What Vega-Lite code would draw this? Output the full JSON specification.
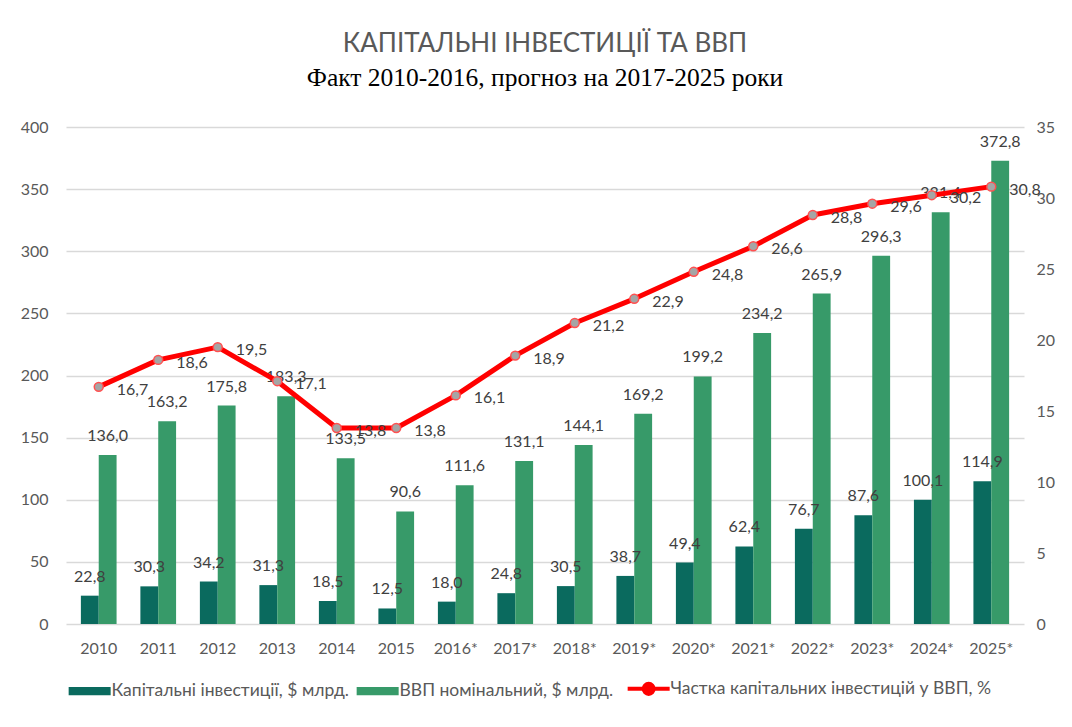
{
  "$schema": "https://vega.github.io/schema/vega-lite/v6.json",
  "width": 958,
  "height": 497,
  "padding": {"left": 20, "top": 30, "right": 10, "bottom": 5},
  "background": "white",
  "config": {
    "view": {"stroke": null},
    "font": "Lato",
    "locale": {"number": {"decimal": ",", "thousands": " ", "grouping": [3], "currency": ["", " $"]}},
    "axis": {"labelFont": "Lato", "labelFontSize": 16, "labelColor": "#595959", "domain": false, "ticks": false, "title": null}
  },
  "title": {
    "text": "КАПІТАЛЬНІ ІНВЕСТИЦІЇ ТА ВВП",
    "subtitle": "Факт 2010-2016, прогноз на 2017-2025 роки",
    "anchor": "middle",
    "font": "Lato",
    "fontSize": 26,
    "fontWeight": "normal",
    "color": "#595959",
    "subtitleFont": "Liberation Serif",
    "subtitleFontSize": 25.5,
    "subtitleColor": "#000000",
    "subtitlePadding": 9,
    "offset": 28
  },
  "data": {
    "values": [
      {"year": "2010", "cap": 22.8, "gdp": 136.0, "share": 16.7},
      {"year": "2011", "cap": 30.3, "gdp": 163.2, "share": 18.6},
      {"year": "2012", "cap": 34.2, "gdp": 175.8, "share": 19.5},
      {"year": "2013", "cap": 31.3, "gdp": 183.3, "share": 17.1},
      {"year": "2014", "cap": 18.5, "gdp": 133.5, "share": 13.8},
      {"year": "2015", "cap": 12.5, "gdp": 90.6, "share": 13.8},
      {"year": "2016*", "cap": 18.0, "gdp": 111.6, "share": 16.1},
      {"year": "2017*", "cap": 24.8, "gdp": 131.1, "share": 18.9},
      {"year": "2018*", "cap": 30.5, "gdp": 144.1, "share": 21.2},
      {"year": "2019*", "cap": 38.7, "gdp": 169.2, "share": 22.9},
      {"year": "2020*", "cap": 49.4, "gdp": 199.2, "share": 24.8},
      {"year": "2021*", "cap": 62.4, "gdp": 234.2, "share": 26.6},
      {"year": "2022*", "cap": 76.7, "gdp": 265.9, "share": 28.8},
      {"year": "2023*", "cap": 87.6, "gdp": 296.3, "share": 29.6},
      {"year": "2024*", "cap": 100.1, "gdp": 331.4, "share": 30.2},
      {"year": "2025*", "cap": 114.9, "gdp": 372.8, "share": 30.8}
    ]
  },
  "encoding": {
    "x": {
      "field": "year",
      "type": "nominal",
      "sort": null,
      "scale": {"paddingInner": 0.4, "paddingOuter": 0.25},
      "axis": {"labelAngle": 0, "labelPadding": 16, "grid": false}
    }
  },
  "layer": [
    {
      "transform": [{"fold": ["cap", "gdp"], "as": ["series", "value"]}],
      "encoding": {
        "y": {
          "field": "value",
          "type": "quantitative",
          "scale": {"domain": [0, 400]},
          "axis": {"orient": "left", "values": [0, 50, 100, 150, 200, 250, 300, 350, 400], "grid": true, "gridColor": "#D9D9D9", "gridWidth": 1.3, "labelPadding": 18}
        },
        "xOffset": {"field": "series", "type": "nominal", "sort": ["cap", "gdp"], "scale": {"paddingInner": 0, "paddingOuter": 0}}
      },
      "layer": [
        {
          "mark": {"type": "bar"},
          "encoding": {
            "color": {
              "field": "series",
              "type": "nominal",
              "scale": {"domain": ["cap", "gdp", "share"], "range": ["#0A6A5E", "#379A69", "#FF0000"]},
              "legend": {
                "orient": "bottom",
                "direction": "horizontal",
                "title": null,
                "labelFontSize": 17.5,
                "labelFont": "Lato",
                "labelColor": "#595959",
                "labelLimit": 0,
                "symbolSize": 1764,
                "labelOffset": 28,
                "columnPadding": 5,
                "offset": 24,
                "labelExpr": "datum.value === 'cap' ? 'Капітальні інвестиції, $ млрд.' : datum.value === 'gdp' ? 'ВВП номінальний, $ млрд.' : 'Частка капітальних інвестицій у ВВП, %'",
                "encode": {
                  "symbols": {
                    "update": {
                      "shape": {"signal": "datum.value === 'share' ? 'M-0.29,0H0.47M0.95,0H1.71M0.95,0A0.24,0.24,0,1,1,0.47,0A0.24,0.24,0,1,1,0.95,0Z' : 'M-0.29,-0.2H1.71V0.2H-0.29Z'"},
                      "fill": {"signal": "datum.value === 'share' ? '#A5A5A5' : datum.value === 'cap' ? '#0A6A5E' : '#379A69'"},
                      "stroke": {"signal": "datum.value === 'share' ? '#FF0000' : 'transparent'"},
                      "strokeWidth": {"signal": "datum.value === 'share' ? 4 : 0"}
                    }
                  }
                }
              }
            }
          }
        },
        {
          "mark": {"type": "text", "baseline": "alphabetic", "dy": -14, "fontSize": 16, "font": "Lato", "color": "#404040"},
          "encoding": {
            "text": {"field": "value", "type": "quantitative", "format": ".1f"}
          }
        }
      ]
    },
    {
      "encoding": {
        "y": {
          "field": "share",
          "type": "quantitative",
          "scale": {"domain": [0, 35]},
          "axis": {"orient": "right", "values": [0, 5, 10, 15, 20, 25, 30, 35], "grid": false, "labelPadding": 12}
        }
      },
      "layer": [
        {
          "mark": {"type": "line", "strokeWidth": 5, "strokeJoin": "round"},
          "encoding": {"color": {"datum": "share", "type": "nominal"}}
        },
        {
          "mark": {"type": "point", "filled": true, "fill": "#A5A5A5", "stroke": "#FF5050", "strokeWidth": 1.5, "size": 80, "opacity": 1},
          "encoding": {}
        },
        {
          "mark": {"type": "text", "align": "left", "baseline": "middle", "dx": 18, "dy": 3, "fontSize": 16, "font": "Lato", "color": "#404040"},
          "encoding": {"text": {"field": "share", "type": "quantitative", "format": ".1f"}}
        }
      ]
    }
  ],
  "resolve": {"scale": {"y": "independent"}}
}
